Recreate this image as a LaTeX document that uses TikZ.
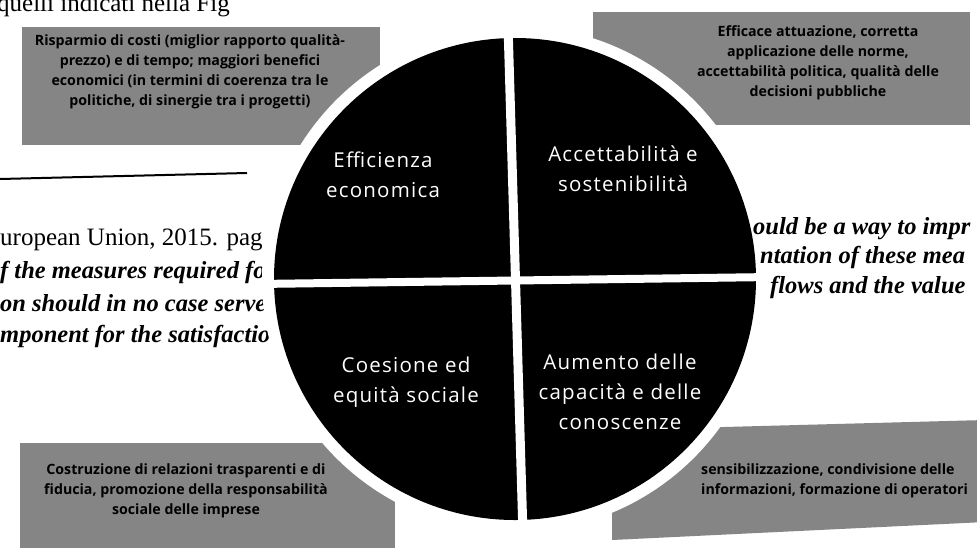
\documentclass[tikz,border=0pt]{standalone}
\usepackage{fontspec}
\setmainfont{Liberation Serif}
\newfontfamily\osans{Open Sans}
\newfontfamily\osanswide[LetterSpace=6]{Open Sans}
\begin{document}
\begin{tikzpicture}[x=1pt,y=-1pt,
  boxfill/.style={fill=black!48, draw=none},
  boxtext/.style={font=\osans\bfseries\fontsize{14.2}{20}\selectfont, align=center, text=black, inner sep=0pt},
  quadtext/.style={font=\osanswide\fontsize{20.5}{30}\selectfont, align=center, text=white, inner sep=0pt},
  pagetext/.style={font=\fontsize{25}{30}\selectfont, inner sep=0pt},
  pageital/.style={font=\bfseries\itshape\fontsize{24.5}{30}\selectfont, inner sep=0pt}]
\useasboundingbox (0,0) rectangle (977,547);
\fill[white] (0,0) rectangle (977,547);
% grey boxes
\fill[boxfill] (22,27) rectangle (380,145);
\fill[boxfill] (593,12) rectangle (970,125);
\fill[boxfill] (20,443) rectangle (395,560);
\fill[boxfill] (612,430) -- (985,420) -- (985,522) -- (612,540) -- cycle;
\node[boxtext] (tl) at (190,72) {Risparmio di costi (miglior rapporto qualità-\\prezzo) e di tempo; maggiori benefici\\economici (in termini di coerenza tra le\\politiche, di sinergie tra i progetti)};
\node[boxtext] (tr) at (818,63) {Efficace attuazione, corretta\\applicazione delle norme,\\accettabilità politica, qualità delle\\decisioni pubbliche};
\node[boxtext] (bl) at (186,491) {Costruzione di relazioni trasparenti e di\\fiducia, promozione della responsabilità\\sociale delle imprese};
\node[boxtext, anchor=north west, align=left] (br) at (701,464) {sensibilizzazione, condivisione delle\\informazioni, formazione di operatori};
% page text
\node[pagetext, anchor=base west] (t0) at (-3,11) {quelli indicati nella Fig};
\coordinate (r0) at (0,179);
\coordinate (r1) at (247,173);
\draw[line width=2pt] (r0) -- (r1);
\node[pagetext, anchor=mid west] (l1) at (0,243) {uropean Union, 2015. pag};
\node[pageital, anchor=mid west] (l2) at (0,276) {f the measures required fo};
\node[pageital, anchor=mid west] (l3) at (0,309) {on should in no case serve};
\node[pageital, anchor=mid west] (l4) at (0,340) {mponent for the satisfactio};
% wheel
\fill[white] (515,279) circle (253);
\node[pageital, anchor=mid west] (r1t) at (753,232) {ould be a way to impr};
\node[pageital, anchor=mid west] (r2t) at (760,261) {ntation of these mea};
\node[pageital, anchor=mid west] (r3t) at (770,291) {flows and the value};
\node[circle, fill=black, minimum size=482pt, inner sep=0pt] (wheel) at (515,279) {};
\coordinate (vt) at (508,25);
\coordinate (vb) at (523,535);
\coordinate (hl) at (258,284);
\coordinate (hr) at (772,277);
\draw[white, line width=9pt] (vt) -- (vb);
\draw[white, line width=8pt] (hl) -- (hr);
\node[quadtext] (q1) at (383,175) {Efficienza\\economica};
\node[quadtext] (q2) at (623,169) {Accettabilità e\\sostenibilità};
\node[quadtext] (q3) at (406,382) {Coesione ed\\equità sociale};
\node[quadtext] (q4) at (620,392) {Aumento delle\\capacità e delle\\conoscenze};
\end{tikzpicture}
\end{document}
